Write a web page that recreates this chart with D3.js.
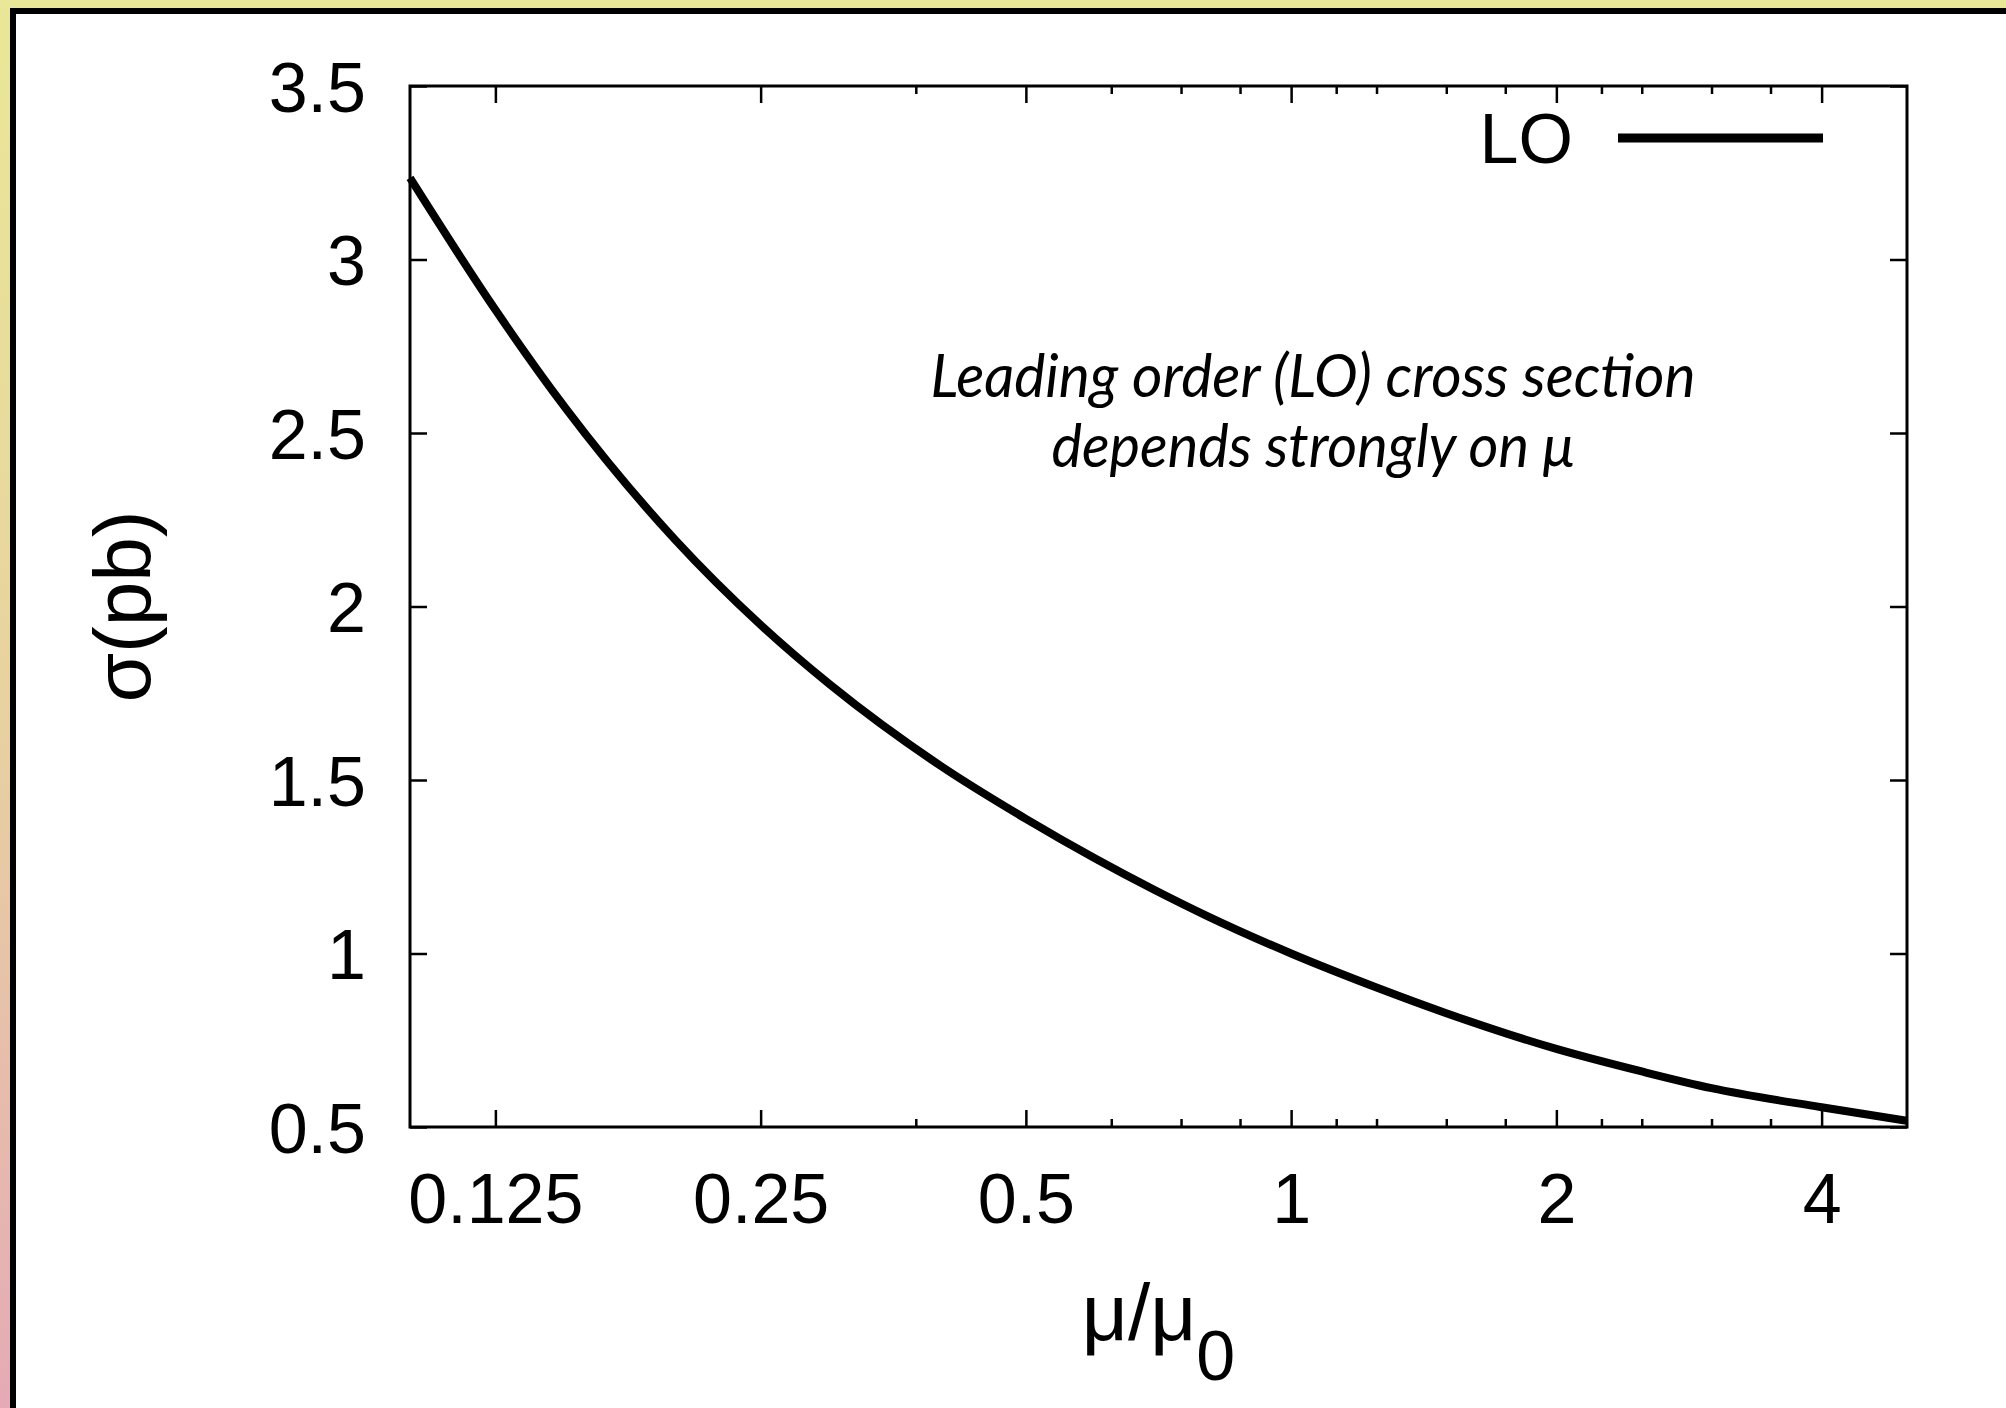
<!DOCTYPE html>
<html>
<head>
<meta charset="utf-8">
<script src="https://d3js.org/d3.v7.min.js"></script>
<style>
  body { margin: 0; background: #fff; }
</style>
</head>
<body>
<svg id="chart"></svg>
<script>

// LO cross section as a function of the scale mu/mu0
muValues    = [0.1, 0.125, 0.15, 0.2, 0.25, 0.3, 0.4, 0.5, 0.6, 0.7, 0.8, 1, 1.25, 1.5, 2, 2.5, 3, 4, 5]
sigmaValues = [3.235, 2.855, 2.573, 2.192, 1.947, 1.774, 1.541, 1.388, 1.273, 1.183, 1.11, 1.0, 0.902, 0.828, 0.725, 0.66, 0.612, 0.557, 0.518]

xMajorTicks = [0.125, 0.25, 0.5, 1, 2, 4]
xMinorTicks = [0.375, 0.625, 0.75, 0.875, 1.125, 1.25, 1.5, 1.75, 2.25, 2.5, 3, 3.5]
yTicks      = [0.5, 1, 1.5, 2, 2.5, 3, 3.5]

seriesNames = ["LO"]
noteLines   = ["Leading order (LO) cross section", "depends strongly on μ"]

width = 2006
height = 1408

margin = ({ top: 86, right: 99, bottom: 281, left: 410 })

const numFont = "'Liberation Sans', Arial, Helvetica, sans-serif"

const svg = d3.select('#chart')
  .attr('width', width)
  .attr('height', height)

// slide-style frame: gradient strip, black rule, white panel
const grad = svg.append('defs').append('linearGradient')
  .attr('id', 'bg').attr('x1', 0).attr('y1', 0).attr('x2', 0).attr('y2', 1)
grad.append('stop').attr('offset', 0).attr('stop-color', '#e9e897')
grad.append('stop').attr('offset', 0.5).attr('stop-color', '#e8d2a0')
grad.append('stop').attr('offset', 1).attr('stop-color', '#e5aab6')

svg.append('rect').attr('width', width).attr('height', height).attr('fill', 'url(#bg)')
svg.append('rect').attr('x', 16).attr('y', 14).attr('width', width - 16).attr('height', height - 14).attr('fill', '#fff')
svg.append('path')
  .attr('d', `M13,${height} V11 H${width}`)
  .attr('fill', 'none').attr('stroke', '#000').attr('stroke-width', 6)

const x = d3.scaleLog()
  .domain([0.1, 5])
  .range([margin.left, width - margin.right])

const y = d3.scaleLinear()
  .domain([0.5, 3.5])
  .range([height - margin.bottom, margin.top])

const bottom = height - margin.bottom
const right = width - margin.right

// ticks (all pointing inward, mirrored on top/right)
function styleTicks(g) {
  g.select('.domain').remove()
  g.selectAll('.tick line').attr('stroke', '#000').attr('stroke-width', 2.5)
}

svg.append('g')
  .attr('transform', `translate(0,${bottom})`)
  .call(d3.axisBottom(x).tickValues(xMajorTicks).tickSize(-17).tickFormat(d => d))
  .call(styleTicks)
  .call(g => g.selectAll('text')
    .attr('y', 96).attr('dy', null)
    .attr('font-family', numFont).attr('font-size', 70).attr('fill', '#000'))

svg.append('g')
  .attr('transform', `translate(0,${bottom})`)
  .call(d3.axisBottom(x).tickValues(xMinorTicks).tickSize(-8).tickFormat(''))
  .call(styleTicks)

svg.append('g')
  .attr('transform', `translate(0,${margin.top})`)
  .call(d3.axisTop(x).tickValues(xMajorTicks).tickSize(-17).tickFormat(''))
  .call(styleTicks)

svg.append('g')
  .attr('transform', `translate(0,${margin.top})`)
  .call(d3.axisTop(x).tickValues(xMinorTicks).tickSize(-8).tickFormat(''))
  .call(styleTicks)

svg.append('g')
  .attr('transform', `translate(${margin.left},0)`)
  .call(d3.axisLeft(y).tickValues(yTicks).tickSize(-17).tickFormat(d => d))
  .call(styleTicks)
  .call(g => g.selectAll('text')
    .attr('x', -44).attr('dy', 25)
    .attr('font-family', numFont).attr('font-size', 70).attr('fill', '#000'))

svg.append('g')
  .attr('transform', `translate(${right},0)`)
  .call(d3.axisRight(y).tickValues(yTicks).tickSize(-17).tickFormat(''))
  .call(styleTicks)

// plot frame
svg.append('rect')
  .attr('x', margin.left).attr('y', margin.top)
  .attr('width', right - margin.left).attr('height', bottom - margin.top)
  .attr('fill', 'none').attr('stroke', '#000').attr('stroke-width', 3)

// the LO curve
const data = muValues.map((m, i) => ({ mu: m, sigma: sigmaValues[i] }))

svg.append('path')
  .datum(data)
  .attr('fill', 'none')
  .attr('stroke', '#000')
  .attr('stroke-width', 8)
  .attr('stroke-linejoin', 'round')
  .attr('d', d3.line().curve(d3.curveMonotoneX).x(d => x(d.mu)).y(d => y(d.sigma)))

// legend
svg.append('text')
  .attr('x', 1573).attr('y', 163)
  .attr('text-anchor', 'end')
  .attr('font-family', numFont).attr('font-size', 70)
  .text(seriesNames[0])

svg.append('line')
  .attr('x1', 1618).attr('x2', 1823).attr('y1', 138).attr('y2', 138)
  .attr('stroke', '#000').attr('stroke-width', 9)

// axis titles
svg.append('text')
  .attr('transform', `translate(150,${(margin.top + bottom) / 2}) rotate(-90)`)
  .attr('text-anchor', 'middle')
  .attr('font-family', numFont).attr('font-size', 80)
  .text('σ(pb)')

const xt = svg.append('text')
  .attr('x', (margin.left + right) / 2).attr('y', 1340)
  .attr('text-anchor', 'middle')
  .attr('font-family', numFont).attr('font-size', 80)
xt.append('tspan').text('μ/μ')
xt.append('tspan').attr('dy', 40).attr('font-size', 70).text('0')

// annotation in the plot
const noteW = [765, 523]
svg.selectAll('.note')
  .data(noteLines)
  .join('text')
    .attr('class', 'note')
    .attr('x', 1313)
    .attr('y', (d, i) => 397 + i * 70)
    .attr('text-anchor', 'middle')
    .attr('font-family', "Lato, 'Open Sans', sans-serif")
    .attr('font-style', 'italic')
    .attr('font-size', 60)
    .attr('textLength', (d, i) => noteW[i])
    .attr('lengthAdjust', 'spacingAndGlyphs')
    .text(d => d)

</script>
</body>
</html>
